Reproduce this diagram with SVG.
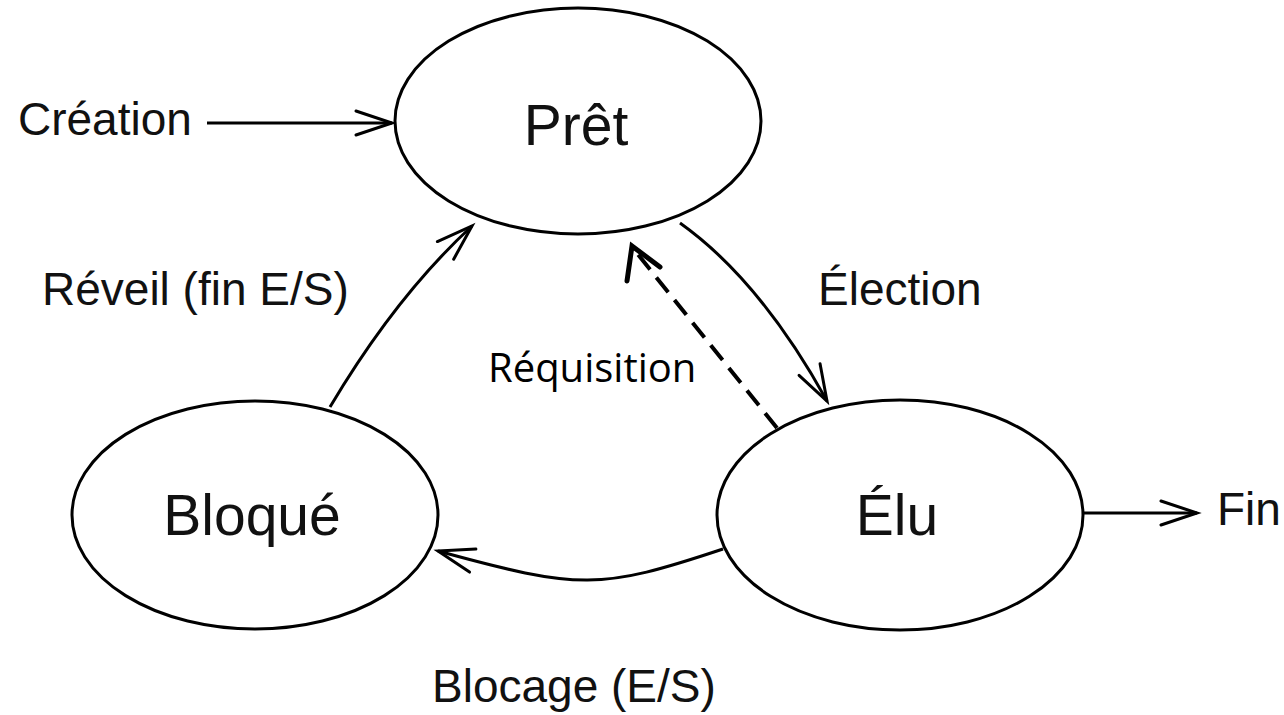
<svg xmlns="http://www.w3.org/2000/svg" width="1284" height="715" viewBox="0 0 1284 715">
  <style>
    .node { fill: #ffffff; stroke: #000000; stroke-width: 3; }
    .ntext { font-family: "Liberation Sans", Arial, sans-serif; font-size: 57px; fill: #111111; text-anchor: middle; }
    .lbl { font-family: "Liberation Sans", Arial, sans-serif; font-size: 46px; fill: #111111; }
    .lbl2 { font-family: "Open Sans", "Noto Sans", sans-serif; font-size: 40px; fill: #000000; }
    .edge { fill: none; stroke: #000000; stroke-width: 3; }
    .dash { fill: none; stroke: #000000; stroke-width: 4; stroke-dasharray: 19 10; }
  </style>
  <defs>
    <marker id="open" markerUnits="userSpaceOnUse" markerWidth="50" markerHeight="40" viewBox="-40 -20 50 40" refX="0" refY="0" orient="auto">
      <path d="M-36,-12 L0,0 L-36,12" fill="none" stroke="#000000" stroke-width="3" stroke-linecap="round" stroke-linejoin="miter"/>
    </marker>
  </defs>
  <rect width="1284" height="715" fill="#ffffff"/>

  <g id="connectors">
    <path class="edge" d="M207,123 L392,123" marker-end="url(#open)"/>
    <path class="edge" d="M1083,513 L1197,513" marker-end="url(#open)"/>
    <path class="edge" d="M330,407 Q396,296 472,226" marker-end="url(#open)"/>
    <path class="edge" d="M680,223 Q760,280 827,401" marker-end="url(#open)"/>
    <path class="edge" d="M723,549 C600,590 580,590 438,551" marker-end="url(#open)"/>
    <path class="dash" d="M777,428 L636,252"/>
    <path d="M627,281 L632,246 L660,267" fill="none" stroke="#000000" stroke-width="5" stroke-linecap="round" stroke-linejoin="miter"/>
  </g>

  <g id="node-pret">
    <ellipse class="node" cx="578" cy="121" rx="183" ry="113"/>
    <text class="ntext" x="576" y="145">Prêt</text>
  </g>
  <g id="node-elu">
    <ellipse class="node" cx="900" cy="515" rx="183" ry="115"/>
    <text class="ntext" x="897" y="535">Élu</text>
  </g>
  <g id="node-bloque">
    <ellipse class="node" cx="255" cy="515" rx="183" ry="114"/>
    <text class="ntext" x="252" y="535">Bloqué</text>
  </g>

  <g id="labels">
    <text class="lbl" x="18" y="135">Création</text>
    <text class="lbl" x="1217" y="525">Fin</text>
    <text class="lbl" x="42" y="305">Réveil (fin E/S)</text>
    <text class="lbl" x="818" y="305">Élection</text>
    <text class="lbl" x="432" y="702">Blocage (E/S)</text>
    <text class="lbl2" x="488" y="382">Réquisition</text>
  </g>
</svg>
